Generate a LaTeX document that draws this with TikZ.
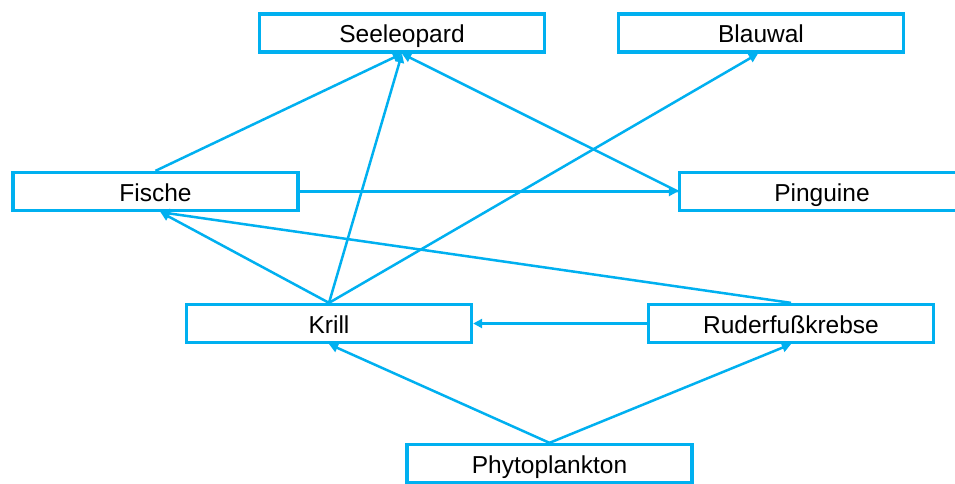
\documentclass[tikz,border=0pt]{standalone}
\usepackage{fontspec}
\setmainfont{Liberation Sans}
\usetikzlibrary{arrows.meta}
\definecolor{cyanline}{RGB}{0,176,240}
\begin{document}
\begin{tikzpicture}[x=1pt,y=1pt,
  box/.style={draw=cyanline, line width=3.3pt, fill=white, minimum width=285pt, minimum height=38pt, inner sep=0pt, text height=19.5pt, text depth=0pt, font=\fontsize{24.5}{29}\selectfont, text=black},
  link/.style={draw=cyanline, line width=2.5pt, -{Triangle[length=9pt,width=9pt]}}]
\useasboundingbox (0,0) rectangle (955,-483);
\clip (0,0) rectangle (955,-483);
\fill[white] (0,0) rectangle (955,-483);
\node[box] (seeleopard) at (402,-33) {Seeleopard};
\node[box] (blauwal) at (761,-33) {Blauwal};
\node[box] (fische) at (155.5,-191.5) {Fische};
\node[box] (pinguine) at (822,-191.5) {Pinguine};
\node[box] (krill) at (329,-323.5) {Krill};
\node[box] (ruder) at (791,-323.5) {Ruderfußkrebse};
\node[box] (phyto) at (549.5,-463.5) {Phytoplankton};
\draw[link] (fische.north) -- (seeleopard.south);
\draw[link] (krill.north) -- (seeleopard.south);
\draw[link] (pinguine.west) -- (seeleopard.south);
\draw[link] (krill.north) -- ([xshift=-3pt]blauwal.south);
\draw[link] (krill.north) -- ([xshift=5pt]fische.south);
\draw[link] (ruder.north) -- ([xshift=5pt]fische.south);
\draw[link] (fische.east) -- (pinguine.west);
\draw[link] (ruder.west) -- (krill.east);
\draw[link] (phyto.north) -- (krill.south);
\draw[link] (phyto.north) -- (ruder.south);
\end{tikzpicture}
\end{document}
